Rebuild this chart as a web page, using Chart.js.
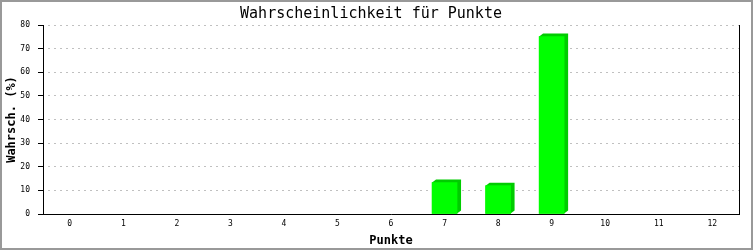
<!DOCTYPE html>
<html>
<head>
<meta charset="utf-8">
<script src="https://cdn.jsdelivr.net/npm/chart.js@4"></script>
<style>
  html, body { margin: 0; padding: 0; background: #fff; }
  #wrap { width: 753px; height: 250px; position: relative; }
</style>
</head>
<body>
<div id="wrap"><canvas id="main-chart" width="753" height="250"></canvas></div>
<script>
// chart data
const punkte = ["0", "1", "2", "3", "4", "5", "6", "7", "8", "9", "10", "11", "12"];
const wahrsch = [0, 0, 0, 0, 0, 0, 0, 13.3, 12.0, 75.1, 0, 0, 0];
const y_ticks = [0, 10, 20, 30, 40, 50, 60, 70, 80];

const mono = "'DejaVu Sans Mono', 'Liberation Mono', monospace";
const depth_x = 4;
const depth_y = -3;

// white background + grey frame + right border line of the plot
const framePlugin = {
    id: "frame",
    beforeDraw(chart) {
        const ctx = chart.ctx;
        ctx.save();
        ctx.fillStyle = "#ffffff";
        ctx.fillRect(0, 0, chart.width, chart.height);
        ctx.restore();
    },
    afterDraw(chart) {
        const ctx = chart.ctx;
        const area = chart.chartArea;
        ctx.save();
        ctx.strokeStyle = "#000000";
        ctx.lineWidth = 1;
        ctx.beginPath();
        ctx.moveTo(Math.round(area.right) + 0.5, area.top);
        ctx.lineTo(Math.round(area.right) + 0.5, area.bottom);
        ctx.stroke();
        ctx.strokeStyle = "#999999";
        ctx.lineWidth = 2;
        ctx.strokeRect(1, 1, chart.width - 2, chart.height - 2);
        ctx.restore();
    }
};

// darker back face so bars look 3d
const depthPlugin = {
    id: "depth",
    beforeDatasetsDraw(chart) {
        const ctx = chart.ctx;
        const meta = chart.getDatasetMeta(0);
        ctx.save();
        ctx.fillStyle = "#00cc00";
        meta.data.forEach((bar, i) => {
            if (!wahrsch[i]) return;
            const p = bar.getProps(["x", "y", "base", "width"], true);
            const left = p.x - p.width / 2;
            const right = p.x + p.width / 2;
            ctx.beginPath();
            ctx.moveTo(left, p.y);
            ctx.lineTo(left + depth_x, p.y + depth_y);
            ctx.lineTo(right + depth_x, p.y + depth_y);
            ctx.lineTo(right + depth_x, p.base + depth_y);
            ctx.lineTo(right, p.base);
            ctx.lineTo(left, p.base);
            ctx.closePath();
            ctx.fill();
        });
        ctx.restore();
    }
};

const config = {
    type: "bar",
    data: {
        labels: punkte,
        datasets: [
            {
                label: "Wahrscheinlichkeit",
                data: wahrsch,
                // zero bars would leave a hairline, hide them
                backgroundColor: (c) => (c.raw ? "#00ff00" : "rgba(0,0,0,0)"),
                borderWidth: 0,
                barThickness: 25
            }
        ]
    },
    options: {
        responsive: false,
        animation: false,
        layout: {
            padding: { left: 3, right: 14, top: 2, bottom: 2 }
        },
        plugins: {
            legend: { display: false },
            tooltip: { enabled: false },
            title: {
                display: true,
                text: "Wahrscheinlichkeit für Punkte",
                color: "#000000",
                font: { family: mono, size: 15, weight: "normal" },
                padding: { top: 3, bottom: 2 }
            }
        },
        scales: {
            x: {
                offset: true,
                grid: { display: false, drawTicks: false },
                border: { display: true, color: "#000000", width: 1 },
                ticks: {
                    color: "#000000",
                    font: { family: mono, size: 8 },
                    maxRotation: 0,
                    padding: 5
                },
                title: {
                    display: true,
                    text: "Punkte",
                    color: "#000000",
                    font: { family: mono, size: 12, weight: "bold" },
                    padding: { top: 1, bottom: 0 }
                },
                afterFit(scale) {
                    scale.height = 34;
                }
            },
            y: {
                min: 0,
                max: 80,
                afterBuildTicks(scale) {
                    scale.ticks = y_ticks.map(v => ({ value: v }));
                },
                grid: {
                    color: "#c0c0c0",
                    tickColor: "#000000",
                    tickBorderDash: [],
                    tickLength: 5,
                    drawTicks: true
                },
                border: { display: true, color: "#000000", width: 1, dash: [2, 4], dashOffset: -4 },
                ticks: {
                    color: "#000000",
                    font: { family: mono, size: 8 },
                    padding: 8
                },
                title: {
                    display: true,
                    text: "Wahrsch. (%)",
                    color: "#000000",
                    font: { family: mono, size: 12, weight: "bold" },
                    padding: { top: 2, bottom: 0 }
                },
                afterFit(scale) {
                    scale.width = 40;
                }
            }
        }
    },
    plugins: [framePlugin, depthPlugin]
};

const myChart = new Chart(document.getElementById("main-chart"), config);
</script>
</body>
</html>
